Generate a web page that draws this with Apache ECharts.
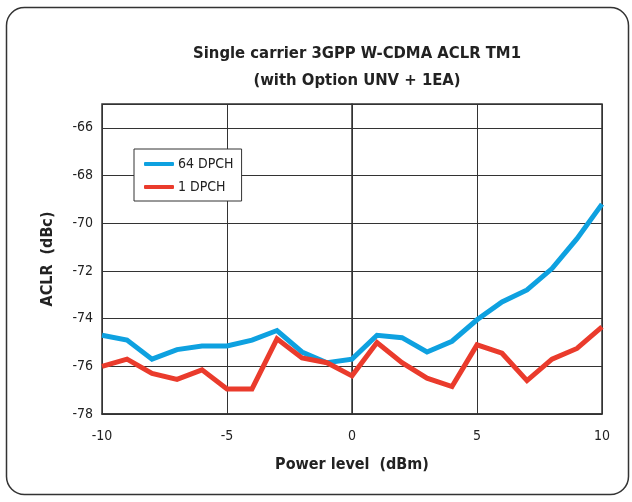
<!DOCTYPE html>
<html>
<head>
<meta charset="utf-8">
<script src="https://cdn.jsdelivr.net/npm/echarts@6/dist/echarts.min.js"></script>
<style>html,body{margin:0;padding:0;background:#fff}#c{width:632px;height:502px}</style>
</head>
<body>
<div id="c"></div>
<script>
const powerLevels = [-10,-9,-8,-7,-6,-5,-4,-3,-2,-1,0,1,2,3,4,5,6,7,8,9,10];
const dpch64 = [-74.7,-74.9,-75.7,-75.3,-75.15,-75.15,-74.9,-74.5,-75.4,-75.85,-75.7,-74.7,-74.8,-75.4,-74.95,-74.05,-73.3,-72.8,-71.9,-70.65,-69.2];
const dpch1 = [-76.0,-75.7,-76.3,-76.55,-76.15,-76.95,-76.95,-74.85,-75.65,-75.85,-76.4,-75.0,-75.85,-76.5,-76.85,-75.1,-75.45,-76.6,-75.7,-75.25,-74.35];
const seriesNames = ['64 DPCH', '1 DPCH'];
const titleLines = ['Single carrier 3GPP W-CDMA ACLR TM1', '(with Option UNV + 1EA)'];

const FONT = "'Liberation Sans Narrow', 'DejaVu Sans Condensed', 'Arial Narrow', sans-serif";
const chart = echarts.init(document.getElementById('c'), null, {renderer: 'canvas'});
const pair = (xs, ys) => xs.map((x, i) => [x, ys[i]]);

chart.setOption({
  animation: false,
  backgroundColor: '#fff',
  textStyle: {fontFamily: FONT},
  graphic: [{
    type: 'rect', silent: true, z: -10,
    shape: {x: 6.5, y: 7.5, width: 622, height: 487, r: 18},
    style: {fill: '#fff', stroke: '#333', lineWidth: 1.5}
  }],
  title: {
    text: titleLines.join('\n'),
    left: 352, top: 35, textAlign: 'center',
    textStyle: {fontFamily: FONT, fontSize: 16.5, fontWeight: 'bold', color: '#222', lineHeight: 27}
  },
  legend: {
    orient: 'vertical',
    left: 134, top: 149,
    padding: [8, 8, 7, 10],
    itemGap: 9,
    itemWidth: 30, itemHeight: 4,
    icon: 'roundRect',
    backgroundColor: '#fff',
    borderColor: '#333', borderWidth: 1,
    textStyle: {fontFamily: FONT, fontSize: 14, color: '#222', padding: [0, 0, 0, -1]},
    data: seriesNames
  },
  grid: {
    left: 102, right: 30, top: 104, bottom: 88,
    show: true, borderColor: '#333', borderWidth: 1.5, backgroundColor: 'transparent'
  },
  xAxis: {
    type: 'value', min: -10, max: 10, interval: 5,
    name: 'Power level  (dBm)', nameLocation: 'middle', nameGap: 43,
    nameTextStyle: {fontFamily: FONT, fontSize: 16, fontWeight: 'bold', color: '#222'},
    axisLine: {show: true, lineStyle: {color: '#333', width: 1.5}},
    axisTick: {show: false},
    axisLabel: {fontFamily: FONT, fontSize: 14, color: '#222', margin: 15},
    splitLine: {show: true, lineStyle: {color: '#333', width: 1}}
  },
  yAxis: {
    type: 'value', min: -78, max: -65, interval: 2,
    name: 'ACLR  (dBc)', nameLocation: 'middle', nameGap: 46,
    nameTextStyle: {fontFamily: FONT, fontSize: 16, fontWeight: 'bold', color: '#222'},
    axisLine: {show: true, lineStyle: {color: '#333', width: 1.5}},
    axisTick: {show: false},
    axisLabel: {fontFamily: FONT, fontSize: 14, color: '#222', margin: 9,
      formatter: v => (v === -65 ? '' : String(v))},
    splitLine: {show: true, lineStyle: {color: '#333', width: 1}}
  },
  series: [
    {name: seriesNames[0], type: 'line', data: pair(powerLevels, dpch64), symbol: 'none',
     color: '#0ea1e0', lineStyle: {width: 5, color: '#0ea1e0', join: 'miter'}, z: 3},
    {name: seriesNames[1], type: 'line', data: pair(powerLevels, dpch1), symbol: 'none',
     color: '#ea3b2c', lineStyle: {width: 5, color: '#ea3b2c', join: 'miter'}, z: 4}
  ]
});
</script>
</body>
</html>
